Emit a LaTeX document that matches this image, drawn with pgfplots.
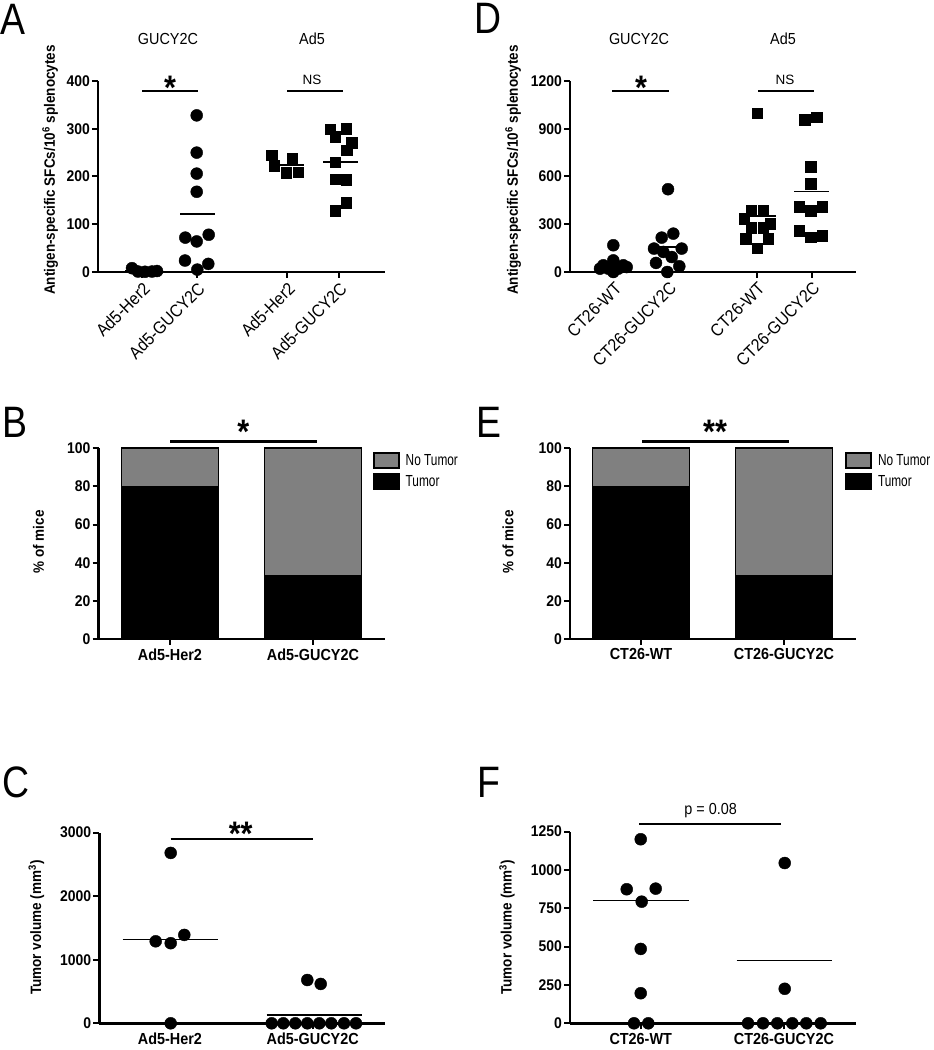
\documentclass[border=0pt]{standalone}
\usepackage{pgfplots}
\pgfplotsset{compat=1.18}
\usepackage{fontspec}
\setmainfont{Liberation Sans}
\newfontfamily\cf[FakeStretch=0.9]{Liberation Sans}
\newfontfamily\nf[FakeStretch=0.74]{Liberation Sans}
\newfontfamily\lf[FakeStretch=0.85]{Liberation Sans}
\newcommand\tickf{\cf\bfseries\fontsize{15.5}{17}\selectfont}
\newcommand\xtf{\cf\bfseries\fontsize{16}{18}\selectfont}
\newcommand\rtf{\cf\fontsize{17.5}{19}\selectfont}
\newcommand\ylf{\cf\bfseries\fontsize{15}{17}\selectfont}
\newcommand\ttf{\cf\fontsize{16}{18}\selectfont}
\newcommand\legf{\nf\fontsize{16}{18}\selectfont}
\newcommand\starf{\cf\bfseries\fontsize{34}{34}\selectfont}
\newcommand\nsf{\fontsize{13.5}{15}\selectfont}
\newcommand\letf{\lf\fontsize{44}{44}\selectfont}
\tikzset{sbar/.style={black, line width=2.4pt}}
\pgfplotsset{
 panel/.style={
  anchor=south west, x=1pt, enlargelimits=false, clip=false,
  axis x line=bottom, axis y line=left,
  axis line style={-, line width=2.6pt, black},
  tick align=outside, major tick length=6pt,
  tick style={line width=2pt, black},
  xmin=0, ymin=0,
  /pgf/number format/assume math mode=true,
  /pgf/number format/1000 sep={},
  yticklabel style={font=\tickf, inner sep=2pt},
  xticklabel style={font=\xtf},
  every axis y label/.style={rotate=90, anchor=center, font=\ylf},
  scaled y ticks=false,
 },
 dots/.style={only marks, mark=*, mark size=6pt, black},
 sq/.style={only marks, mark=square*, mark size=5.3pt, black},
 mline/.style={black, line width=1.6pt, mark=none},
 boxleg/.style={legend image code/.code={\draw[##1] (0pt,-7.5pt) rectangle (25pt,7.5pt);}},
}
\begin{document}
\begin{tikzpicture}
\path[use as bounding box] (0pt,0pt) rectangle (934pt,1050pt);

% ---------------- A ----------------
\begin{axis}[panel, at={(98pt,778pt)}, y=0.4775pt, xmax=287, ymax=400,
  ytick={0,100,...,400}, xtick={44,99,189,241},
  xticklabels={Ad5-Her2,Ad5-GUCY2C,Ad5-Her2,Ad5-GUCY2C},
  xticklabel style={rotate=45, anchor=north east, font=\rtf, inner sep=2pt},
  ylabel={Antigen-specific SFCs/10\textsuperscript{6} splenocytes},
  ylabel style={at={(axis description cs:-0.167,0.534)}}]
\addplot[dots] coordinates {(34,8) (40,1) (47,0.5) (54,1) (59,2)};
\addplot[dots] coordinates {(98.7,328) (98.7,250) (98.7,206) (98.7,168) (87.3,72) (98.7,64) (110.7,78) (87,24) (110.3,17) (99.3,5)};
\addplot[sq] coordinates {(173.7,245) (194.3,238) (176,223) (188,208) (200.3,209)};
\addplot[sq] coordinates {(232,299) (248,300) (237,283) (253.7,271) (248.7,255) (237,230) (237,194) (248,193) (248,145) (237,128)};
\addplot[mline] coordinates {(27,3) (61,3)};
\addplot[mline] coordinates {(82,121) (117,121)};
\addplot[mline] coordinates {(172,224) (206,224)};
\addplot[mline] coordinates {(225,230) (260,230)};
\end{axis}

% ---------------- D ----------------
\begin{axis}[panel, at={(570pt,778pt)}, y=0.15917pt, xmax=286, ymax=1200,
  ytick={0,300,...,1200}, xtick={44,98.7,187,242},
  xticklabels={CT26-WT,CT26-GUCY2C,CT26-WT,CT26-GUCY2C},
  xticklabel style={rotate=45, anchor=north east, font=\rtf, inner sep=2pt},
  ylabel={Antigen-specific SFCs/10\textsuperscript{6} splenocytes},
  ylabel style={at={(axis description cs:-0.199,0.534)}}]
\addplot[dots] coordinates {(43.3,168) (33.3,42) (53.3,42) (43.3,73) (38.3,21) (48.3,21) (30,21) (56.7,31) (43.3,0) (43.3,52)};
\addplot[dots] coordinates {(98,520) (103.3,241) (91.7,216) (84,147) (111.7,147) (93.3,126) (101.7,94) (86,57) (109.3,36) (97.3,0)};
\addplot[sq] coordinates {(187,997) (174,333) (181.3,385) (193.3,385) (200,302) (181.3,278) (193.3,278) (175.7,211) (198,211) (187.3,149)};
\addplot[sq] coordinates {(234.7,955) (246.7,972) (240.7,662) (240.7,553) (229,410) (240.7,385) (252.3,410) (229,260) (240.7,218) (252.3,228)};
\addplot[mline] coordinates {(27,47) (60,47)};
\addplot[mline] coordinates {(85,158) (112,158)};
\addplot[mline] coordinates {(169,352) (205.7,352)};
\addplot[mline] coordinates {(224,505) (259,505)};
\end{axis}

% ---------------- B ----------------
\begin{axis}[panel, at={(98.7pt,411pt)}, y=1.907pt, xmax=286.3, ymax=100,
  ytick={0,20,...,100}, xtick={71.3,214.3},
  xticklabels={Ad5-Her2,Ad5-GUCY2C},
  ylabel={\% of mice},
  ylabel style={at={(axis description cs:-0.21,0.51)}},
  ybar stacked, bar width=97pt, reverse legend,
  legend style={at={(axis cs:274,98)}, anchor=north west, draw=none, fill=none,
    inner sep=0pt, font=\legf, row sep=4pt, cells={anchor=west},
    /tikz/every odd column/.append style={column sep=4pt}}]
\addplot[fill=black, draw=black, line width=1.8pt, boxleg]
  coordinates {(71.3,80) (214.3,33.3)};
\addlegendentry{Tumor}
\addplot[fill=gray, draw=black, line width=1.8pt, boxleg]
  coordinates {(71.3,20) (214.3,66.7)};
\addlegendentry{No Tumor}
\end{axis}

% ---------------- E ----------------
\begin{axis}[panel, at={(570pt,411pt)}, y=1.907pt, xmax=285.7, ymax=100,
  ytick={0,20,...,100}, xtick={71,214},
  xticklabels={CT26-WT,CT26-GUCY2C},
  ylabel={\% of mice},
  ylabel style={at={(axis description cs:-0.217,0.51)}},
  ybar stacked, bar width=97pt, reverse legend,
  legend style={at={(axis cs:275,98)}, anchor=north west, draw=none, fill=none,
    inner sep=0pt, font=\legf, row sep=4pt, cells={anchor=west},
    /tikz/every odd column/.append style={column sep=4pt}}]
\addplot[fill=black, draw=black, line width=1.8pt, boxleg]
  coordinates {(71,80) (214,33.3)};
\addlegendentry{Tumor}
\addplot[fill=gray, draw=black, line width=1.8pt, boxleg]
  coordinates {(71,20) (214,66.7)};
\addlegendentry{No Tumor}
\end{axis}

% ---------------- C ----------------
\begin{axis}[panel, at={(99.3pt,26.7pt)}, y=0.063567pt, xmax=285.7, ymax=3000,
  ytick={0,1000,2000,3000}, xtick={70.7,213.4},
  xticklabels={Ad5-Her2,Ad5-GUCY2C},
  ylabel={Tumor volume (mm\textsuperscript{3})},
  ylabel style={at={(axis description cs:-0.22,0.502)}}]
\addplot[dots] coordinates {(71.4,2680) (56.4,1290) (71.4,1260) (85,1390) (71.4,0)};
\addplot[dots] coordinates {(172.4,0) (184,0) (196,0) (208,0) (220,0) (232,0) (244.7,0) (256.7,0) (208,681) (221.4,619)};
\addplot[mline] coordinates {(23.4,1321) (119,1321)};
\addplot[mline] coordinates {(167.4,131) (262.4,131)};
\end{axis}

% ---------------- F ----------------
\begin{axis}[panel, at={(570pt,26.7pt)}, y=0.15336pt, xmax=285.7, ymax=1250,
  ytick={0,250,...,1250}, xtick={70.7,214},
  xticklabels={CT26-WT,CT26-GUCY2C},
  ylabel={Tumor volume (mm\textsuperscript{3})},
  ylabel style={at={(axis description cs:-0.2205,0.5)}}]
\addplot[dots] coordinates {(70.7,1200) (56.7,874) (85.7,878) (71.7,793) (70.7,485) (70.7,196) (64,0) (78.3,0)};
\addplot[dots] coordinates {(178,0) (193,0) (207.3,0) (222.3,0) (236.3,0) (250.7,0) (214.7,1045) (214.7,225)};
\addplot[mline] coordinates {(23.3,800) (119,800)};
\addplot[mline] coordinates {(166.7,410) (262.3,410)};
\end{axis}

% ---------------- annotations ----------------
\node[anchor=base west, inner sep=0pt, font=\letf] at (0pt,1015pt) {A};
\node[anchor=base west, inner sep=0pt, font=\letf] at (474pt,1016pt) {D};
\node[anchor=base west, inner sep=0pt, font=\letf] at (2pt,612pt) {B};
\node[anchor=base west, inner sep=0pt, font=\letf] at (476pt,612pt) {E};
\node[anchor=base west, inner sep=0pt, font=\letf] at (2pt,252pt) {C};
\node[anchor=base west, inner sep=0pt, font=\letf] at (477pt,252pt) {F};

\node[anchor=base, inner sep=0pt, font=\ttf] at (168pt,1005pt) {GUCY2C};
\node[anchor=base, inner sep=0pt, font=\ttf] at (312pt,1005pt) {Ad5};
\node[anchor=base, inner sep=0pt, font=\ttf] at (639pt,1005pt) {GUCY2C};
\node[anchor=base, inner sep=0pt, font=\ttf] at (783pt,1005pt) {Ad5};

\draw[sbar] (142pt,959pt) -- (198pt,959pt);
\node[anchor=north, inner sep=0pt, font=\starf] at (170pt,974pt) {*};
\draw[sbar] (287pt,959pt) -- (343pt,959pt);
\node[anchor=north, inner sep=0pt, font=\nsf] at (312pt,975pt) {NS};

\draw[sbar] (612pt,959pt) -- (669pt,959pt);
\node[anchor=north, inner sep=0pt, font=\starf] at (641pt,974pt) {*};
\draw[sbar] (758pt,959pt) -- (814pt,959pt);
\node[anchor=north, inner sep=0pt, font=\nsf] at (785pt,975pt) {NS};

\draw[sbar] (170pt,608.3pt) -- (316.7pt,608.3pt);
\node[anchor=north, inner sep=0pt, font=\starf] at (243.3pt,630pt) {*};
\draw[sbar] (642pt,608.3pt) -- (789pt,608.3pt);
\node[anchor=north, inner sep=0pt, font=\starf] at (715pt,630pt) {**};

\draw[sbar] (170.7pt,210.7pt) -- (312.7pt,210.7pt);
\node[anchor=north, inner sep=0pt, font=\starf] at (240.7pt,228.3pt) {**};
\draw[sbar] (639pt,226pt) -- (781.3pt,226pt);
\node[anchor=base, inner sep=0pt, font=\ttf] at (710.7pt,235pt) {p = 0.08};
\end{tikzpicture}
\end{document}
